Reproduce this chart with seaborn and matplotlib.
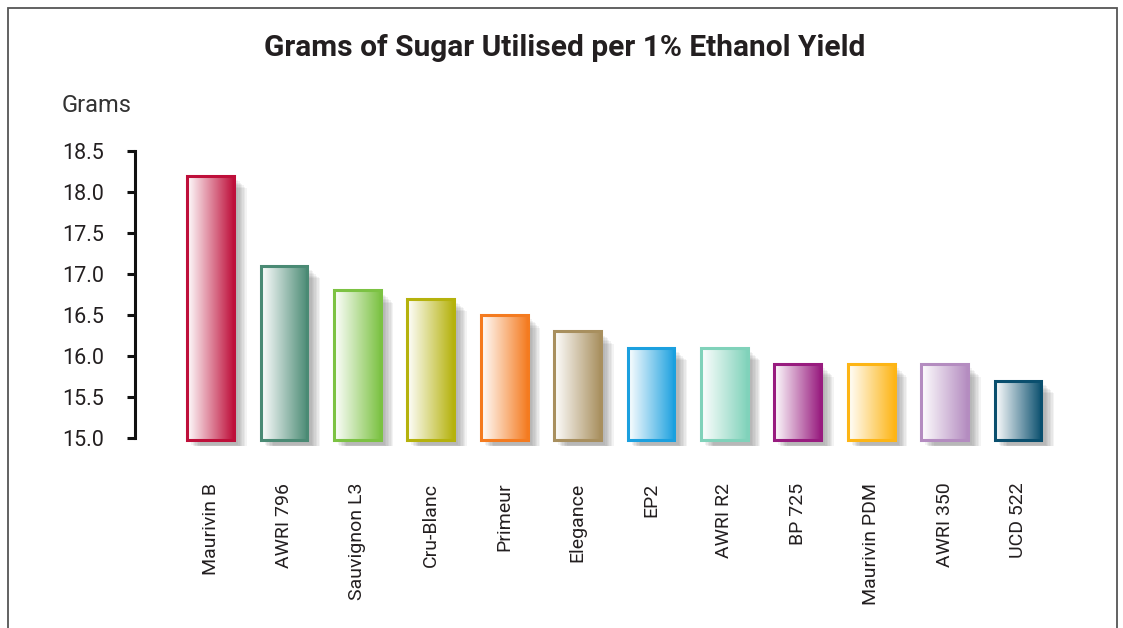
import numpy as np
import pandas as pd
import seaborn as sns
import matplotlib.pyplot as plt
import matplotlib.patheffects as pe
from matplotlib.colors import LinearSegmentedColormap
from matplotlib.patches import Rectangle

strains = ['Maurivin B', 'AWRI 796', 'Sauvignon L3', 'Cru-Blanc', 'Primeur', 'Elegance',
           'EP2', 'AWRI R2', 'BP 725', 'Maurivin PDM', 'AWRI 350', 'UCD 522']
grams = [18.2, 17.1, 16.8, 16.7, 16.5, 16.3, 16.1, 16.1, 15.9, 15.9, 15.9, 15.7]
colours = ['#BE0F3A', '#4A8A74', '#7CC243', '#B5B20C', '#F47B20', '#A88F5E',
           '#1BA0DF', '#80D2BA', '#981C7F', '#FDB515', '#B48CC0', '#0A4F6E']
yticks = [15.0, 15.5, 16.0, 16.5, 17.0, 17.5, 18.0, 18.5]

df = pd.DataFrame({'strain': strains, 'grams': grams})

sns.set_style('white')
plt.rcParams['font.family'] = ['Roboto', 'DejaVu Sans']
text_col = '#231F20'

# y scale: 15.0 at 438 px, 18.5 at 151 px -> 82 px per unit
ymin = 14.9
ax_bottom = 438 + (15.0 - ymin) * 82

fig = plt.figure(figsize=(11.23, 6.28), dpi=100)
ax = fig.add_axes([135/1123, 1 - ax_bottom/628, (1105 - 135)/1123, (ax_bottom - 151)/628])

sns.barplot(data=df, x='strain', y='grams', hue='strain', palette=colours,
            width=0.64, legend=False, ax=ax)

base = 14.97
for patch, col in zip(ax.patches, colours):
    x0 = patch.get_x()
    w = patch.get_width()
    top = patch.get_y() + patch.get_height()
    patch.set_y(base)
    patch.set_height(top - base)
    # soft drop shadow
    sh = Rectangle((x0, base), w, top - base, facecolor='none', edgecolor='none', zorder=1)
    sh.set_path_effects([pe.SimplePatchShadow(offset=(d, -d), shadow_rgbFace='#555555', alpha=0.07)
                         for d in (3, 4, 5, 6, 7, 8, 9)])
    ax.add_patch(sh)
    # white-to-colour gradient
    cmap = LinearSegmentedColormap.from_list('g', ['#FFFFFF', col])
    grad = np.linspace(0, 1, 256).reshape(1, -1)
    im = ax.imshow(grad, cmap=cmap, extent=[x0, x0 + w, base, top], aspect='auto',
                   origin='lower', zorder=2, interpolation='bicubic')
    im.set_clip_path(patch)
    patch.set_facecolor('none')
    patch.set_edgecolor(col)
    patch.set_linewidth(2.2)
    patch.set_zorder(3)

ax.set_xlim(-1.03, 11 + (1105 - 1018) / 73.4)
ax.set_ylim(ymin, 18.5)
ax.set_yticks(yticks)
ax.set_yticklabels([f'{t:.1f}' for t in yticks], fontsize=15.5, color=text_col)
ax.set_xticks(range(len(strains)))
ax.set_xticklabels(strains, rotation=90, fontsize=14, color=text_col, va='top')
ax.tick_params(axis='x', length=0, pad=32 - 8 * 0.72)
ax.tick_params(axis='y', length=5.5, width=2.2, color='#111111', pad=17, direction='out', left=True)
ax.set_xlabel('')
ax.set_ylabel('')
sns.despine(ax=ax, bottom=True)
ax.spines['left'].set_linewidth(2.2)
ax.spines['left'].set_color('#111111')
ax.spines['left'].set_bounds(15.0, 18.5)
ax.set_facecolor('none')

fig.text(565/1123, 1 - 48/628, 'Grams of Sugar Utilised per 1% Ethanol Yield',
         ha='center', va='center', fontsize=21.5, fontweight='bold', color=text_col)
fig.text(62/1123, 1 - 105/628, 'Grams', ha='left', va='center', fontsize=17,
         color='#333333')

fig.patches.append(Rectangle((8/1123, -0.1), (1117 - 8)/1123, 1.1 - 8/628,
                             transform=fig.transFigure, facecolor='none',
                             edgecolor='#555555', linewidth=1.3))

fig.savefig('out.png', dpi=100, facecolor='white')
